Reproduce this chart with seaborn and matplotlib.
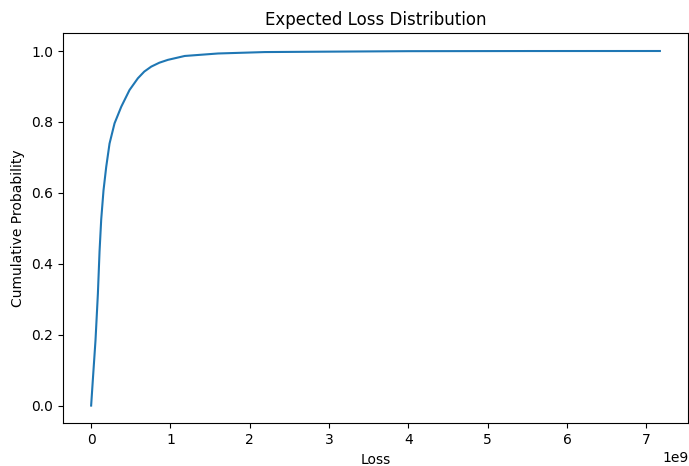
import matplotlib
matplotlib.use("Agg")
import matplotlib.pyplot as plt
import seaborn as sns
import pandas as pd

loss_billions = [0.0, 0.021, 0.055, 0.085, 0.106, 0.127, 0.156, 0.19, 0.232,
                 0.295, 0.38, 0.484, 0.589, 0.67, 0.758, 0.86, 0.967, 1.18,
                 1.60, 2.19, 2.86, 4.0, 5.5, 7.17]
cum_prob = [0.0, 0.071, 0.184, 0.315, 0.435, 0.525, 0.607, 0.673, 0.739,
            0.796, 0.843, 0.890, 0.923, 0.942, 0.956, 0.967, 0.975, 0.986,
            0.993, 0.997, 0.998, 0.9995, 0.9999, 1.0]

df = pd.DataFrame({"Loss": [v * 1e9 for v in loss_billions],
                   "Cumulative Probability": cum_prob})

fig = plt.figure(figsize=(6.89, 4.66), dpi=100)
ax = fig.add_axes([0.091, 0.0916, 0.908, 0.837])
sns.lineplot(data=df, x="Loss", y="Cumulative Probability", ax=ax,
             color="#1f77b4", linewidth=1.5)
ax.set_title("Expected Loss Distribution")
ax.set_xlabel("Loss")
ax.set_ylabel("Cumulative Probability")
fig.savefig("out.png", dpi=100)
